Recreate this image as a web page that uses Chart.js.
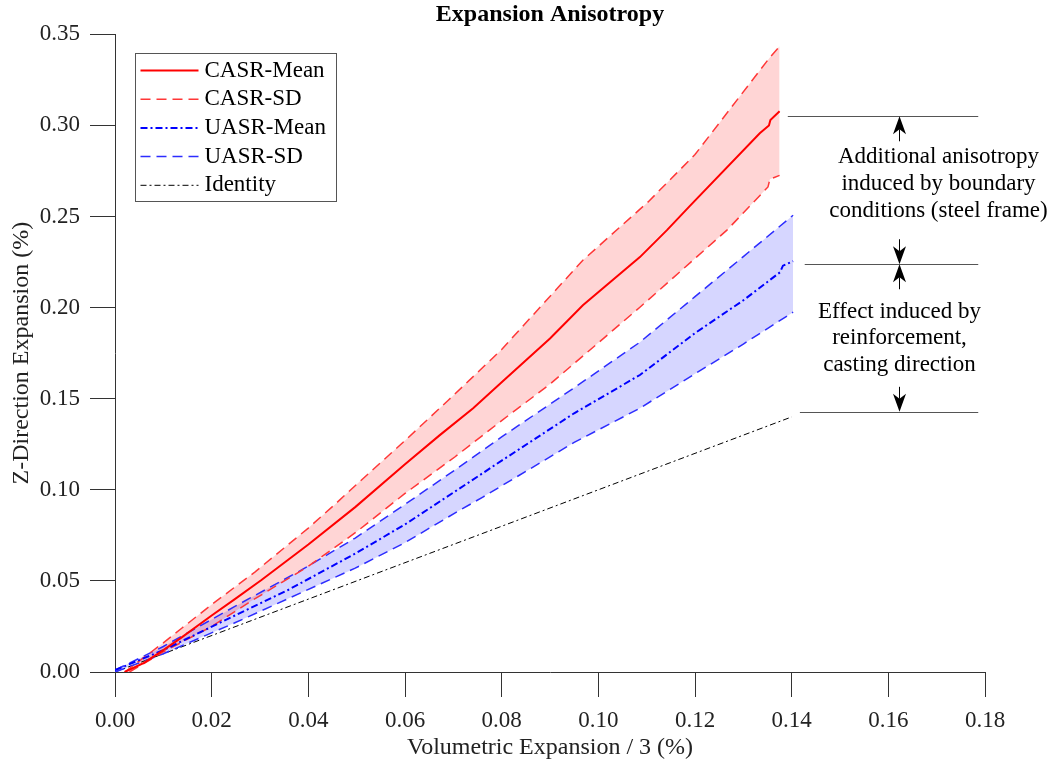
<!DOCTYPE html>
<html>
<head>
<meta charset="utf-8">
<title>Expansion Anisotropy</title>
<script src="https://cdn.jsdelivr.net/npm/chart.js@4.4.1/dist/chart.umd.min.js"></script>
<style>
  html, body { margin: 0; padding: 0; background: #fff; }
</style>
</head>
<body>
<canvas id="anisotropy-chart" width="1053" height="767"></canvas>
<script>
// tick labels
const xTicks = [0, 0.02, 0.04, 0.06, 0.08, 0.10, 0.12, 0.14, 0.16, 0.18];
const yTicks = [0, 0.05, 0.10, 0.15, 0.20, 0.25, 0.30, 0.35];

// CASR (constrained) series
const casrMeanX = [0.002, 0.006, 0.010, 0.0138, 0.020, 0.0248, 0.0303, 0.040, 0.0497, 0.060, 0.0672, 0.0741, 0.080, 0.090, 0.0968, 0.1086, 0.1142, 0.119, 0.1334, 0.1353, 0.1356, 0.1375];
const casrMeanY = [0.000, 0.005, 0.012, 0.019, 0.031, 0.040, 0.0505, 0.070, 0.0905, 0.114, 0.130, 0.1448, 0.159, 0.183, 0.2013, 0.2277, 0.2425, 0.256, 0.2957, 0.300, 0.303, 0.3078];
const casrUpperX = [0.002, 0.006, 0.010, 0.0138, 0.020, 0.029, 0.040, 0.0455, 0.050, 0.060, 0.0689, 0.080, 0.0968, 0.1103, 0.120, 0.1354, 0.1375];
const casrUpperY = [0.000, 0.008, 0.016, 0.024, 0.037, 0.055, 0.079, 0.092, 0.103, 0.127, 0.149, 0.177, 0.226, 0.258, 0.284, 0.337, 0.3434];
const casrLowerX = [0.003, 0.010, 0.020, 0.0276, 0.040, 0.050, 0.060, 0.0703, 0.080, 0.090, 0.1086, 0.1266, 0.1351, 0.1355, 0.1375];
const casrLowerY = [0.000, 0.011, 0.025, 0.038, 0.058, 0.077, 0.098, 0.118, 0.138, 0.158, 0.2002, 0.2425, 0.2662, 0.2705, 0.2726];

// UASR (unconstrained) series
const uasrMeanX = [0.000, 0.010, 0.0248, 0.0358, 0.0497, 0.060, 0.0703, 0.080, 0.095, 0.1086, 0.120, 0.130, 0.1376, 0.1382, 0.1403];
const uasrMeanY = [0.001, 0.012, 0.031, 0.045, 0.065, 0.081, 0.099, 0.116, 0.142, 0.163, 0.186, 0.204, 0.2194, 0.223, 0.2255];
const uasrUpperX = [0.000, 0.010, 0.0248, 0.0386, 0.0497, 0.060, 0.0703, 0.080, 0.095, 0.1086, 0.120, 0.130, 0.1403];
const uasrUpperY = [0.001, 0.014, 0.036, 0.056, 0.0735, 0.092, 0.1108, 0.129, 0.156, 0.181, 0.206, 0.228, 0.2507];
const uasrLowerX = [0.000, 0.010, 0.0248, 0.0497, 0.060, 0.0703, 0.0761, 0.095, 0.1086, 0.120, 0.130, 0.1403];
const uasrLowerY = [0.000, 0.010, 0.027, 0.057, 0.071, 0.0872, 0.096, 0.126, 0.1448, 0.1637, 0.180, 0.1975];

// identity line
const identityX = [0, 0.14];
const identityY = [0, 0.14];

// annotation on the right side
const annoLevels = [0.305, 0.2238, 0.1428];
const annoStartX = [0.1392, 0.1427, 0.1417];
const annoEndX = 0.1786;
const annoArrowX = 0.1623;
const annoTextTop = ["Additional anisotropy", "induced by boundary", "conditions (steel frame)"];
const annoTextBottom = ["Effect induced by", "reinforcement,", "casting direction"];

const SERIF = "'Liberation Serif', 'Times New Roman', serif";
const AXIS = "#333";
const RED_SD = "rgb(255, 55, 55)";
const BLUE_SD = "rgb(45, 45, 255)";

function pts(xs, ys) {
  return xs.map((x, i) => ({ x: x, y: ys[i] }));
}

function setTicks(list) {
  return (scale) => { scale.ticks = list.map((v) => ({ value: v })); };
}

const legendBox = {
  id: "legendBox",
  afterDatasetsDraw(chart) {
    const ctx = chart.ctx;
    const area = chart.chartArea;
    const items = chart.data.datasets
      .filter((d) => d.legendRow !== undefined)
      .sort((a, b) => a.legendRow - b.legendRow);
    const left = Math.round(area.left + 20) + 0.5, top = Math.round(area.top + 19) + 0.5;
    const w = 201, h = 148, rowH = 28.7;
    ctx.save();
    ctx.fillStyle = "#fff";
    ctx.fillRect(left, top, w, h);
    ctx.strokeStyle = "#555";
    ctx.lineWidth = 1;
    ctx.strokeRect(left, top, w, h);
    ctx.font = "23px " + SERIF;
    ctx.textBaseline = "middle";
    items.forEach((d, i) => {
      const y = top + 17 + i * rowH;
      ctx.beginPath();
      ctx.strokeStyle = d.borderColor;
      ctx.lineWidth = d.borderWidth;
      ctx.setLineDash(d.borderDash || []);
      ctx.moveTo(left + 5, y);
      ctx.lineTo(left + 63, y);
      ctx.stroke();
      ctx.setLineDash([]);
      ctx.fillStyle = "#000";
      ctx.fillText(d.label, left + 69, y);
    });
    ctx.restore();
  },
};

function arrow(ctx, x, tip, dir) {
  // dir: -1 points up, +1 points down
  const len = 25, head = 18, half = 6.5, notch = 5;
  ctx.beginPath();
  ctx.moveTo(x, tip - dir * len);
  ctx.lineTo(x, tip - dir * (head - notch));
  ctx.stroke();
  ctx.beginPath();
  ctx.moveTo(x, tip);
  ctx.lineTo(x - half, tip - dir * head);
  ctx.lineTo(x, tip - dir * (head - notch));
  ctx.lineTo(x + half, tip - dir * head);
  ctx.closePath();
  ctx.fill();
}

const sideNotes = {
  id: "sideNotes",
  afterDraw(chart) {
    const ctx = chart.ctx;
    const xs = chart.scales.x, ys = chart.scales.y;
    const levels = annoLevels.map((v) => ys.getPixelForValue(v));
    const ax = Math.round(xs.getPixelForValue(annoArrowX)) + 0.5;
    ctx.save();
    ctx.strokeStyle = "#555";
    ctx.lineWidth = 1.2;
    levels.forEach((py, i) => {
      ctx.beginPath();
      ctx.moveTo(xs.getPixelForValue(annoStartX[i]), Math.round(py) + 0.5);
      ctx.lineTo(xs.getPixelForValue(annoEndX), Math.round(py) + 0.5);
      ctx.stroke();
    });
    ctx.strokeStyle = "#000";
    ctx.fillStyle = "#000";
    ctx.lineWidth = 1;
    arrow(ctx, ax, levels[0], -1);
    arrow(ctx, ax, levels[1], 1);
    arrow(ctx, ax, levels[1], -1);
    arrow(ctx, ax, levels[2], 1);

    ctx.font = "23px " + SERIF;
    ctx.textAlign = "center";
    ctx.textBaseline = "middle";
    const c1 = (levels[0] + levels[1]) / 2 - 6;
    annoTextTop.forEach((t, i) => ctx.fillText(t, ax + 39, c1 + (i - 1) * 27));
    const c2 = (levels[1] + levels[2]) / 2;
    annoTextBottom.forEach((t, i) => ctx.fillText(t, ax, c2 + (i - 1) * 26.5));
    ctx.restore();
  },
};

new Chart(document.getElementById("anisotropy-chart"), {
  type: "line",
  data: {
    datasets: [
      {
        label: "CASR-Mean",
        legendRow: 0,
        data: pts(casrMeanX, casrMeanY),
        borderColor: "#ff0000",
        borderWidth: 2,
      },
      {
        label: "UASR-Mean",
        legendRow: 2,
        data: pts(uasrMeanX, uasrMeanY),
        borderColor: "#0000ff",
        borderWidth: 2,
        borderDash: [7, 3, 2, 3],
      },
      {
        label: "CASR-SD",
        legendRow: 1,
        data: pts(casrUpperX, casrUpperY),
        borderColor: RED_SD,
        borderWidth: 1.5,
        borderDash: [10, 6],
        fill: "+1",
        backgroundColor: "rgba(255, 0, 0, 0.165)",
      },
      {
        label: "CASR-SD lower",
        data: pts(casrLowerX, casrLowerY),
        borderColor: RED_SD,
        borderWidth: 1.5,
        borderDash: [10, 6],
      },
      {
        label: "UASR-SD",
        legendRow: 3,
        data: pts(uasrUpperX, uasrUpperY),
        borderColor: BLUE_SD,
        borderWidth: 1.5,
        borderDash: [10, 6],
        fill: "+1",
        backgroundColor: "rgba(0, 0, 255, 0.16)",
      },
      {
        label: "UASR-SD lower",
        data: pts(uasrLowerX, uasrLowerY),
        borderColor: BLUE_SD,
        borderWidth: 1.5,
        borderDash: [10, 6],
      },
      {
        label: "Identity",
        legendRow: 4,
        data: pts(identityX, identityY),
        borderColor: "#000",
        borderWidth: 1,
        borderDash: [6, 3, 2, 3],
      },
    ],
  },
  options: {
    responsive: false,
    animation: false,
    events: [],
    elements: { point: { radius: 0 }, line: { tension: 0 } },
    layout: { padding: { left: 0, right: 68, top: 0, bottom: 0 } },
    plugins: {
      legend: { display: false },
      tooltip: { enabled: false },
      filler: { drawTime: "beforeDatasetsDraw" },
      title: {
        display: true,
        fullSize: false,
        text: "Expansion Anisotropy",
        color: "#000",
        font: { family: SERIF, size: 24, weight: "bold" },
        padding: { top: 0, bottom: 5.5 },
      },
    },
    scales: {
      x: {
        type: "linear",
        min: 0,
        max: 0.18,
        afterBuildTicks: setTicks(xTicks),
        afterFit: (s) => { s.height = 95; },
        grid: { drawOnChartArea: false, drawTicks: true, tickLength: 25, color: AXIS },
        border: { display: true, color: AXIS },
        ticks: {
          padding: 10,
          color: "#222",
          font: { family: SERIF, size: 23 },
          callback: (v) => v.toFixed(2),
          maxRotation: 0,
        },
        title: {
          display: true,
          text: "Volumetric Expansion / 3 (%)",
          color: "#222",
          font: { family: SERIF, size: 24 },
          padding: { top: 0, bottom: 5 },
        },
      },
      y: {
        type: "linear",
        min: 0,
        max: 0.35,
        afterBuildTicks: setTicks(yTicks),
        afterFit: (s) => { s.width = 115; },
        grid: { drawOnChartArea: false, drawTicks: true, tickLength: 25, color: AXIS },
        border: { display: true, color: AXIS },
        ticks: {
          padding: 10,
          color: "#222",
          font: { family: SERIF, size: 23 },
          callback: (v) => v.toFixed(2),
        },
        title: {
          display: true,
          text: "Z-Direction Expansion (%)",
          color: "#222",
          font: { family: SERIF, size: 24 },
          padding: { top: 7, bottom: 0 },
        },
      },
    },
  },
  plugins: [legendBox, sideNotes],
});
</script>
</body>
</html>
